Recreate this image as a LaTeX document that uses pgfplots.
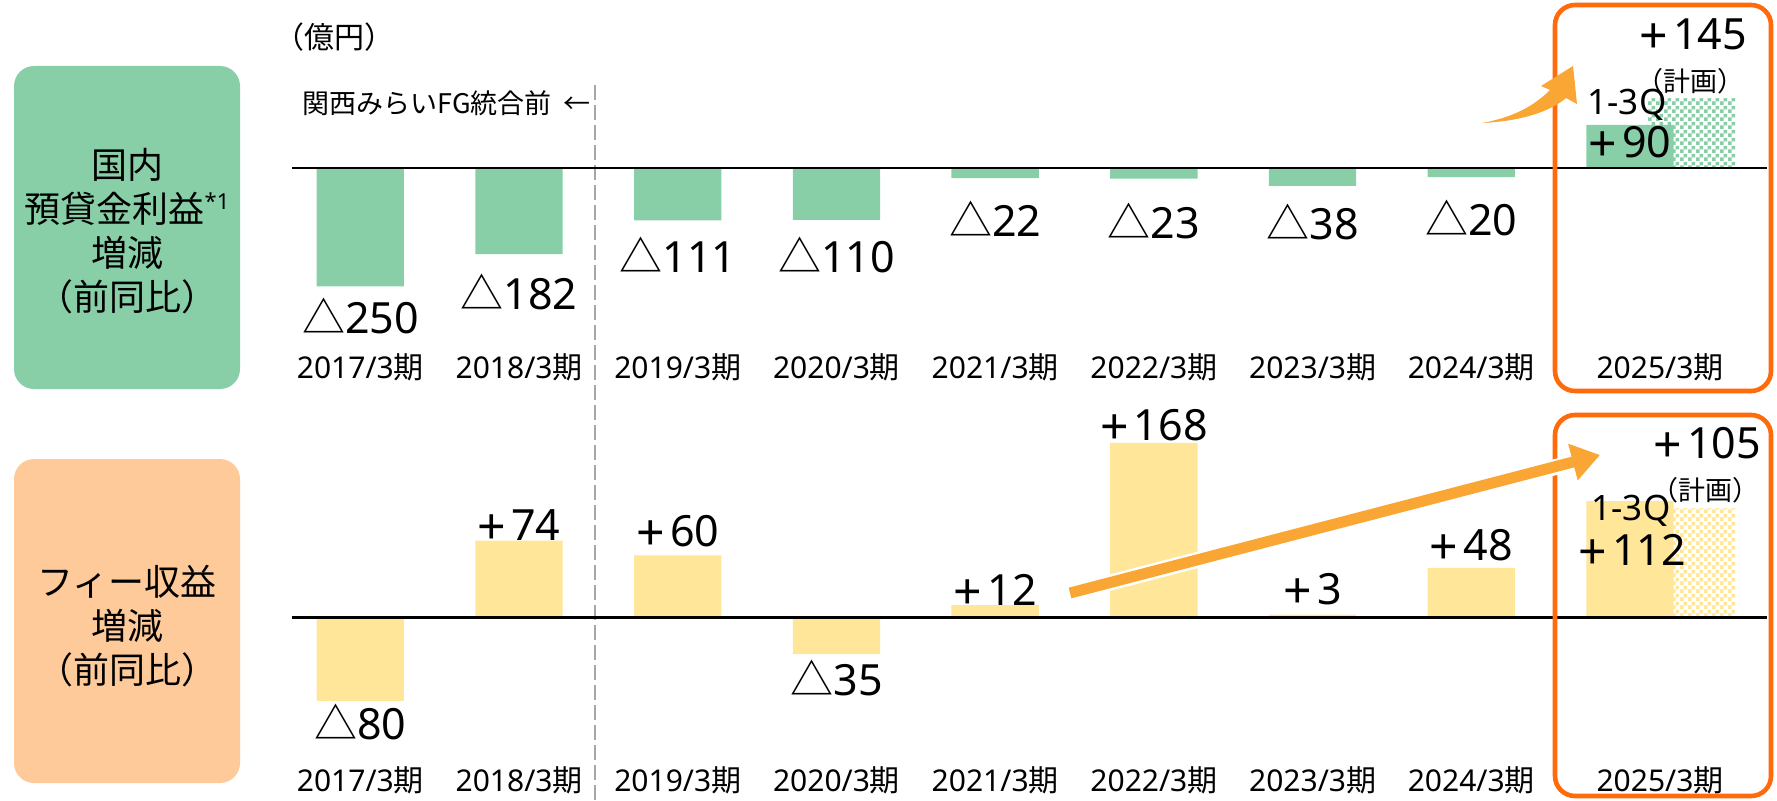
\documentclass[border=0pt]{standalone}
\usepackage{pgfplots}
\pgfplotsset{compat=1.18}
\usepackage{fontspec}
\setmainfont{Noto Sans CJK JP}
\newfontfamily\lat{Noto Sans}
\usetikzlibrary{patterns,arrows.meta}

\definecolor{barGreen}{HTML}{88CFA8}
\definecolor{barYellow}{HTML}{FFE699}
\definecolor{boxPeach}{HTML}{FFCA99}
\definecolor{frameOrange}{HTML}{FF6A0A}
\definecolor{arrowOrange}{HTML}{FAA634}

% fine checkerboard for the plan (計画) bars
\pgfdeclarepatternformonly{finecheck}{\pgfpointorigin}{\pgfqpoint{4pt}{4pt}}{\pgfqpoint{4pt}{4pt}}{
  \pgfpathrectangle{\pgfpointorigin}{\pgfqpoint{2pt}{2pt}}
  \pgfpathrectangle{\pgfqpoint{2pt}{2pt}}{\pgfqpoint{2pt}{2pt}}
  \pgfusepath{fill}}

\newcommand{\valfont}{\fontsize{21.5}{24}\selectfont}
\newcommand{\catfont}{\fontsize{15}{17}\selectfont}
\newcommand{\dn}[1]{△{\lat #1}}
\newcommand{\up}[1]{{\lat\raisebox{-1.6pt}{\fontsize{25}{25}\selectfont +}\kern0.12em#1}}

\begin{document}
\begin{tikzpicture}[px/.style={shift={(0,400pt)}, x=0.5pt, y=-0.5pt}]
\path[use as bounding box] (0,0) rectangle (888.5pt,400pt);

% background pieces, in pixels of the reference (y down)
\begin{scope}[px]
  \fill[barGreen, rounded corners=10pt] (14,66) rectangle (240,389);
  \fill[boxPeach, rounded corners=10pt] (14,459) rectangle (240,783);
  \node[align=center, font=\fontsize{18}{22}\selectfont] at (127,231)
    {国内\\預貸金利益\raisebox{0.35em}{\fontsize{11}{11}\selectfont\lat *1}\\増減\\（前同比）};
  \node[align=center, font=\fontsize{18}{22}\selectfont] at (127,626)
    {フィー収益\\増減\\（前同比）};
  \draw[black!35, line width=1pt, dash pattern=on 7.5pt off 2.5pt] (595,85) -- (595,800);
  \node[font=\fontsize{15}{18}\selectfont] at (334,37) {（億円）};
  \node[anchor=west, font=\fontsize{13.5}{16}\selectfont, inner sep=0pt] at (302,103) {関西みらいFG統合前\hspace{6pt}←};
\end{scope}

% 国内預貸金利益 増減
\begin{axis}[
  at={(146pt,230pt)}, anchor=south west,
  scale only axis, width=737.25pt, height=164pt,
  xmin=-0.43, xmax=8.86, ymin=-362.7, ymax=327.8,
  hide axis, clip=false,
]
\addplot[ybar, bar width=0.56, bar shift=0, draw=none,
  pattern=finecheck, pattern color=barGreen] coordinates {(8.387,145)};
\addplot[ybar, bar width=0.55, bar shift=0, draw=none, fill=barGreen] coordinates {
  (0,-250) (1,-182) (2,-111) (3,-110) (4,-22) (5,-23) (6,-38) (7,-20) (8,90)
};
\draw[line width=1.2pt] (axis cs:-0.43,0) -- (axis cs:8.86,0);
\end{axis}

% フィー収益 増減
\begin{axis}[
  at={(146pt,2.5pt)}, anchor=south west,
  scale only axis, width=737.25pt, height=197.5pt,
  xmin=-0.43, xmax=8.86, ymin=-170.5, ymax=209.3,
  hide axis, clip=false,
]
\addplot[ybar, bar width=0.56, bar shift=0, draw=none,
  pattern=finecheck, pattern color=barYellow] coordinates {(8.387,105)};
\addplot[ybar, bar width=0.55, bar shift=0, draw=none, fill=barYellow] coordinates {
  (0,-80) (1,74) (2,60) (3,-35) (4,12) (5,168) (6,3) (7,48) (8,112)
};
\draw[line width=1.2pt] (axis cs:-0.43,0) -- (axis cs:8.86,0);
\end{axis}

\begin{scope}[px]
  % frames round 2025/3期
  \draw[frameOrange, line width=2.3pt, rounded corners=10pt] (1555,5) rectangle (1771,391);
  \draw[frameOrange, line width=2.3pt, rounded corners=10pt] (1555,415) rectangle (1771,796);
  % arrows
  \fill[arrowOrange] (1482,123) .. controls (1525,121) and (1552,110) .. (1566,98)
    -- (1577,104) -- (1573,66) -- (1541,86) -- (1550,90)
    .. controls (1535,105) and (1515,117) .. (1482,123) -- cycle;
  \draw[white, line width=8pt] (1070,593) -- (1575,462);
  \draw[arrowOrange, line width=5.5pt, -{Triangle[length=14pt,width=18pt]}] (1070,593) -- (1600,455);

  % category labels
  \foreach \y in {367,780}{
    \foreach \i/\lab in {0/2017,1/2018,2/2019,3/2020,4/2021,5/2022,6/2023,7/2024}{
      \node[font=\catfont] at ({360.4+158.7*\i},\y) {{\lat\lab/3}期};
    }
    \node[font=\catfont] at (1660,\y) {{\lat 2025/3}期};
  }

  % value labels
  \foreach \x/\y/\t in {360.4/316/\dn{250}, 519.1/292/\dn{182}, 677.8/255/\dn{111}, 836.5/255/\dn{110},
      995.2/219/\dn{22}, 1153.9/221/\dn{23}, 1312.6/222/\dn{38}, 1471.3/218/\dn{20},
      360.4/722/\dn{80}, 519.1/527/\up{74}, 677.8/533/\up{60}, 836.5/678/\dn{35},
      995.2/592/\up{12}, 1153.9/427/\up{168}, 1312.6/591/\up{3}, 1471.3/547/\up{48}}{
    \node[font=\valfont] at (\x,\y) {\t};
  }

  \node[font=\valfont, inner sep=0pt] at (1693,36) {\up{145}};
  \node[font=\fontsize{13.5}{16}\selectfont, inner sep=0pt] at (1690,81) {（計画）};
  \node[font=\fontsize{17.5}{20}\selectfont, inner sep=0pt] at (1627,105) {\lat 1-3Q};
  \node[font=\valfont, inner sep=0pt] at (1630,144) {\up{90}};

  \node[font=\valfont, inner sep=0pt] at (1707,445) {\up{105}};
  \node[font=\fontsize{13.5}{16}\selectfont, inner sep=0pt] at (1705,490) {（計画）};
  \node[font=\fontsize{17.5}{20}\selectfont, inner sep=0pt] at (1631,511) {\lat 1-3Q};
  \node[font=\valfont, inner sep=0pt] at (1632,552) {\up{112}};
\end{scope}
\end{tikzpicture}
\end{document}
